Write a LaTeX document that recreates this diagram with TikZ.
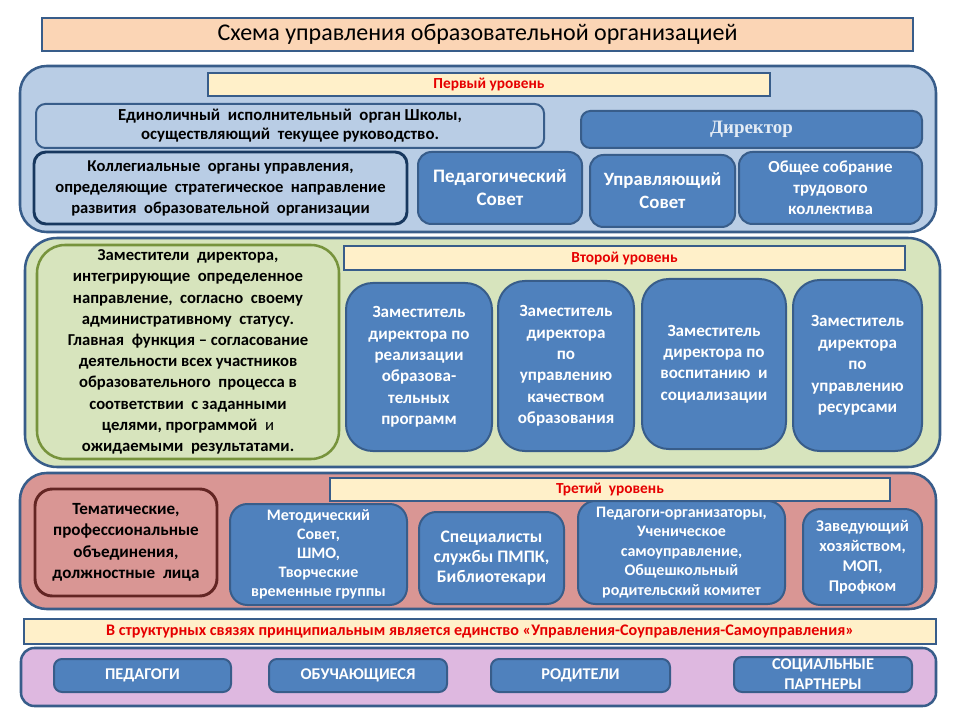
\documentclass[tikz,border=0pt]{standalone}
\usepackage{fontspec}
\setmainfont{Carlito}
\newfontfamily\serifb{Liberation Serif}
\usetikzlibrary{fit}
\definecolor{peach}{HTML}{FBD5B5}
\definecolor{lblue}{HTML}{B9CDE5}
\definecolor{pyellow}{HTML}{FFF0C9}
\definecolor{olivel}{HTML}{D7E4BD}
\definecolor{rose}{HTML}{D99694}
\definecolor{lav}{HTML}{DEB8E0}
\definecolor{mblue}{HTML}{4F81BD}
\definecolor{brd}{HTML}{385D8A}
\definecolor{navy}{HTML}{17375E}
\definecolor{olivebrd}{HTML}{77933C}
\definecolor{redbrd}{HTML}{632523}
\definecolor{redtxt}{HTML}{E60000}
\definecolor{dirtxt}{HTML}{E4ECF5}
\newcommand\mybox[8]{\node[#2, fit={(#3,#4) (#5,#6)}] (#1) {};
  \node[txt, #7] (#1-t) at (#1.center) {#8};}
\tikzset{
  base/.style={inner sep=0pt},
  txt/.style={inner sep=0pt, align=center},
  titlebox/.style={base, draw=brd, line width=1.9pt, fill=peach},
  container/.style={base, draw=brd, line width=1.9pt, rounded corners=20pt},
  bar/.style={base, draw=brd, line width=2pt, fill=pyellow},
  bartxt/.style={text=redtxt, font=\bfseries\fontsize{11.5}{13}\selectfont},
  lightbox/.style={base, draw=brd, line width=1.5pt, fill=lblue, rounded corners=7pt},
  bluebox/.style={base, draw=brd, line width=1.5pt, fill=mblue, rounded corners=10pt},
  wtxt/.style={text=white, font=\bfseries\fontsize{12.5}{16}\selectfont},
  btxt/.style={text=black, font=\bfseries\fontsize{12.5}{15.75}\selectfont},
  zbox/.style={bluebox, rounded corners=20pt},
  ztxt/.style={wtxt, font=\bfseries\fontsize{12.8}{16.1}\selectfont},
  botbox/.style={bluebox, rounded corners=6pt},
  bottxt/.style={wtxt, font=\bfseries\fontsize{12.3}{15}\selectfont},
}
\begin{document}
\begin{tikzpicture}[x=0.75pt,y=-0.75pt]
\useasboundingbox (0,0) rectangle (960,720);
% title
\mybox{title}{titlebox}{42}{18}{913}{51}{font=\fontsize{18}{21}\selectfont}{Схема управления образовательной организацией}
% level 1
\node[container, fill=lblue, fit={(20,66) (936,232)}] (lvlone) {};
\mybox{barone}{bar}{208}{73}{770}{96}{bartxt}{Первый уровень}
\mybox{edin}{lightbox}{36}{104}{544}{148}{btxt, font=\bfseries\fontsize{12.6}{14.25}\selectfont}{Единоличный\ \ исполнительный\ \ орган Школы,\\осуществляющий\ \ текущее руководство.}
\mybox{dir}{bluebox, rounded corners=7pt}{581}{111}{922}{148}{text=dirtxt, font=\serifb\bfseries\fontsize{14.2}{16}\selectfont}{Директор}
\mybox{koll}{lightbox, draw=navy, line width=2.2pt, rounded corners=9pt}{34}{152}{407}{224}{btxt, font=\bfseries\fontsize{12.4}{15.75}\selectfont}{Коллегиальные\ \ органы управления,\\определяющие\ \ стратегическое\ \ направление\\развития\ \ образовательной\ \ организации}
\mybox{ped}{bluebox}{418}{152}{582}{224}{wtxt, font=\bfseries\fontsize{14.3}{17.25}\selectfont}{Педагогический\\Совет}
\mybox{upr}{bluebox}{590}{155}{735}{227}{wtxt, font=\bfseries\fontsize{14.1}{17.25}\selectfont}{Управляющий\\Совет}
\mybox{obsh}{bluebox}{739}{152}{922}{224}{wtxt, font=\bfseries\fontsize{12.7}{15.75}\selectfont}{Общее собрание\\трудового\\коллектива}
% level 2
\node[container, fill=olivel, rounded corners=24pt, fit={(25,238) (940,467)}] (lvltwo) {};
\mybox{lefttwo}{base, draw=olivebrd, line width=1.9pt, fill=olivel, rounded corners=21pt}{37}{245}{339}{459}{btxt, font=\bfseries\fontsize{12.5}{15.9}\selectfont}{Заместители\ \ директора,\\интегрирующие\ \ определенное\\направление,\ \ согласно\ \ своему\\административному\ \ статусу.\\Главная\ \ функция -- согласование\\деятельности всех участников\\образовательного\ \ процесса в\\соответствии\ \ с заданными\\целями, программой\ \ {\mdseries и}\\ожидаемыми\ \ результатами.}
\mybox{bartwo}{bar}{344}{246}{905}{270}{bartxt}{Второй уровень}
\mybox{zone}{zbox}{346}{283}{492}{451}{ztxt}{Заместитель\\директора по\\реализации\\образова-\\тельных\\программ}
\mybox{ztwo}{zbox}{498}{281}{634}{451}{ztxt}{Заместитель\\директора\\по\\управлению\\качеством\\образования}
\mybox{zthree}{zbox}{642}{279}{786}{449}{ztxt}{Заместитель\\директора по\\воспитанию\ \ и\\социализации}
\mybox{zfour}{zbox}{793}{280}{922}{451}{ztxt}{Заместитель\\директора\\по\\управлению\\ресурсами}
% level 3
\node[container, fill=rose, fit={(20,473) (936,609)}] (lvlthree) {};
\mybox{barthree}{bar}{330}{478}{890}{501}{bartxt}{Третий\ \ уровень}
\mybox{tem}{base, draw=redbrd, line width=2.2pt, fill=rose, rounded corners=13pt}{35}{489}{217}{596}{btxt, font=\bfseries\fontsize{12.8}{16.1}\selectfont}{Тематические,\\профессиональные\\объединения,\\должностные\ \ лица}
\mybox{met}{bluebox, rounded corners=13pt}{230}{504}{407}{605}{wtxt, font=\bfseries\fontsize{12}{14.25}\selectfont}{Методический\\Совет,\\ШМО,\\Творческие\\временные группы}
\mybox{spec}{bluebox, rounded corners=13pt}{419}{512}{564}{604}{wtxt, font=\bfseries\fontsize{13.2}{14.8}\selectfont}{Специалисты\\службы ПМПК,\\Библиотекари}
\mybox{pedorg}{bluebox, rounded corners=13pt}{578}{501}{785}{604}{wtxt, font=\bfseries\fontsize{12}{14.6}\selectfont}{Педагоги-организаторы,\\Ученическое\\самоуправление,\\Общешкольный\\родительский комитет}
\mybox{zav}{bluebox, rounded corners=13pt}{803}{509}{922}{605}{wtxt, font=\bfseries\fontsize{12.3}{15}\selectfont}{Заведующий\\хозяйством,\\МОП,\\Профком}
% bottom
\mybox{barfour}{bar}{24}{619}{936}{644}{bartxt, font=\bfseries\fontsize{12.1}{13}\selectfont}{В структурных связях принципиальным является единство «Управления-Соуправления-Самоуправления»}
\node[container, fill=lav, rounded corners=10pt, fit={(21,648) (936,706)}] (lvlfour) {};
\mybox{pedag}{botbox}{54}{659}{231}{692}{bottxt}{ПЕДАГОГИ}
\mybox{obuch}{botbox}{269}{659}{447}{692}{bottxt}{ОБУЧАЮЩИЕСЯ}
\mybox{rodit}{botbox}{491}{659}{670}{692}{bottxt}{РОДИТЕЛИ}
\mybox{socp}{botbox}{734}{657}{912}{692}{bottxt}{СОЦИАЛЬНЫЕ\\ПАРТНЕРЫ}
\end{tikzpicture}
\end{document}
